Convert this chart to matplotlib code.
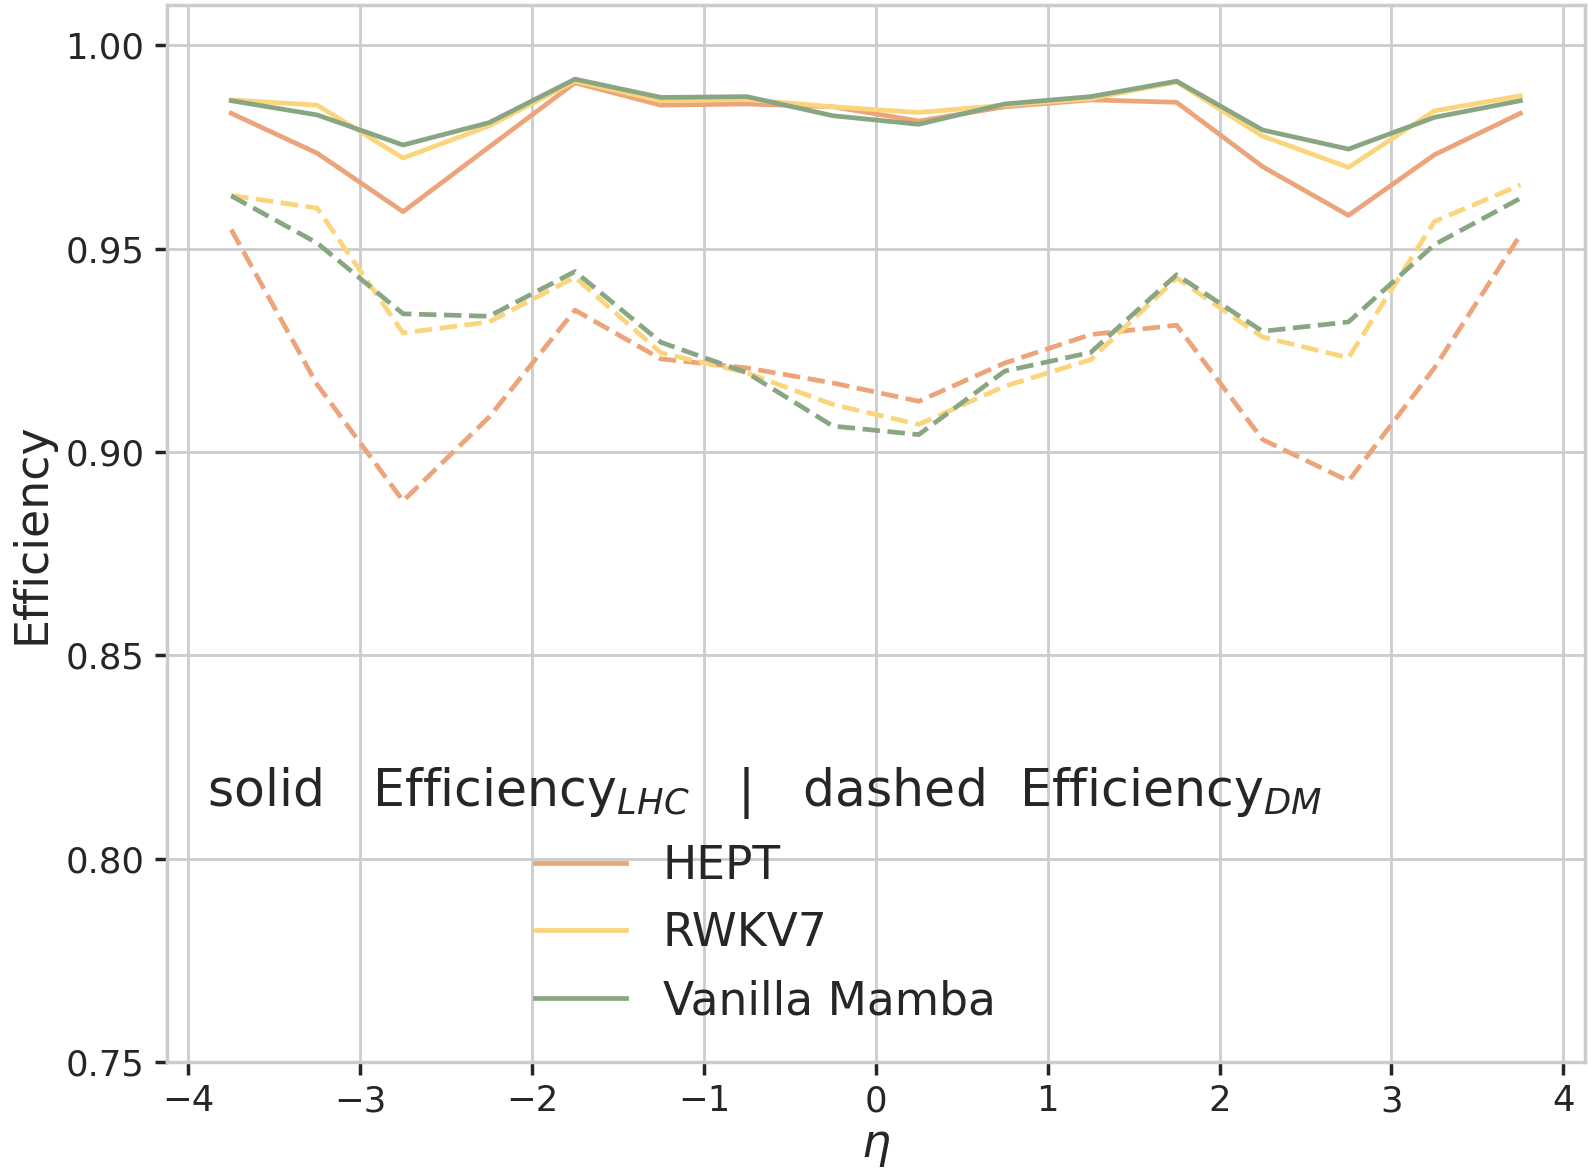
import numpy as np
import matplotlib
matplotlib.use("Agg")
import matplotlib.pyplot as plt

# eta bin centres
eta = [-3.75, -3.25, -2.75, -2.25, -1.75, -1.25, -0.75, -0.25,
       0.25, 0.75, 1.25, 1.75, 2.25, 2.75, 3.25, 3.75]

# solid: Efficiency_LHC
hept_lhc = [0.9833, 0.9735, 0.9591, 0.9750, 0.9908, 0.9853, 0.9856, 0.9849,
            0.9814, 0.9849, 0.9866, 0.9860, 0.9702, 0.9582, 0.9731, 0.9833]
rwkv_lhc = [0.9866, 0.9853, 0.9723, 0.9802, 0.9912, 0.9864, 0.9867, 0.9849,
            0.9835, 0.9853, 0.9869, 0.9910, 0.9777, 0.9700, 0.9839, 0.9876]
mamba_lhc = [0.9864, 0.9829, 0.9755, 0.9810, 0.9917, 0.9872, 0.9874, 0.9827,
             0.9806, 0.9856, 0.9874, 0.9912, 0.9792, 0.9745, 0.9823, 0.9864]

# dashed: Efficiency_DM
hept_dm = [0.9547, 0.9166, 0.8880, 0.9086, 0.9349, 0.9229, 0.9207, 0.9170,
           0.9125, 0.9219, 0.9289, 0.9312, 0.9031, 0.8929, 0.9207, 0.9534]
rwkv_dm = [0.9631, 0.9600, 0.9293, 0.9320, 0.9430, 0.9244, 0.9195, 0.9117,
           0.9068, 0.9162, 0.9227, 0.9428, 0.9283, 0.9232, 0.9567, 0.9657]
mamba_dm = [0.9630, 0.9514, 0.9340, 0.9334, 0.9444, 0.9270, 0.9195, 0.9064,
            0.9043, 0.9199, 0.9245, 0.9436, 0.9297, 0.9320, 0.9510, 0.9624]

models = ["HEPT", "RWKV7", "Vanilla Mamba"]
colors = ["#eca47a", "#fad57c", "#89a682"]

plt.rcParams.update({
    "axes.edgecolor": "#cccccc",
    "axes.linewidth": 1.25,
    "grid.color": "#cccccc",
    "grid.linewidth": 1.0,
    "xtick.color": "#262626",
    "ytick.color": "#262626",
    "text.color": "#262626",
    "axes.labelcolor": "#262626",
})

fig, ax = plt.subplots(figsize=(7.94, 5.875), dpi=200)
fig.subplots_adjust(left=0.105, right=0.998, top=0.996, bottom=0.096)

lhc = [hept_lhc, rwkv_lhc, mamba_lhc]
dm = [hept_dm, rwkv_dm, mamba_dm]
for name, c, s, d in zip(models, colors, lhc, dm):
    ax.plot(eta, s, color=c, lw=1.7, ls="-", label=name)
    ax.plot(eta, d, color=c, lw=1.7, ls="--")

ax.set_ylim(0.75, 1.01)
ax.set_xticks(np.arange(-4, 5, 1))
ax.set_yticks([0.75, 0.80, 0.85, 0.90, 0.95, 1.00])
ax.grid(True)
ax.set_axisbelow(True)
ax.tick_params(axis="both", labelsize=12.8, length=4.5, width=1.25, color="#262626")
ax.set_xlabel(r"$\eta$", fontsize=16.5, labelpad=2)
ax.set_ylabel("Efficiency", fontsize=16.5)

leg = ax.legend(loc="upper center", bbox_to_anchor=(0.422, 0.32),
                frameon=False, fontsize=16.4,
                title=r"solid   Efficiency$_{LHC}$   |   dashed  Efficiency$_{DM}$",
                title_fontsize=18.2)

fig.savefig("out.png", dpi=200)
